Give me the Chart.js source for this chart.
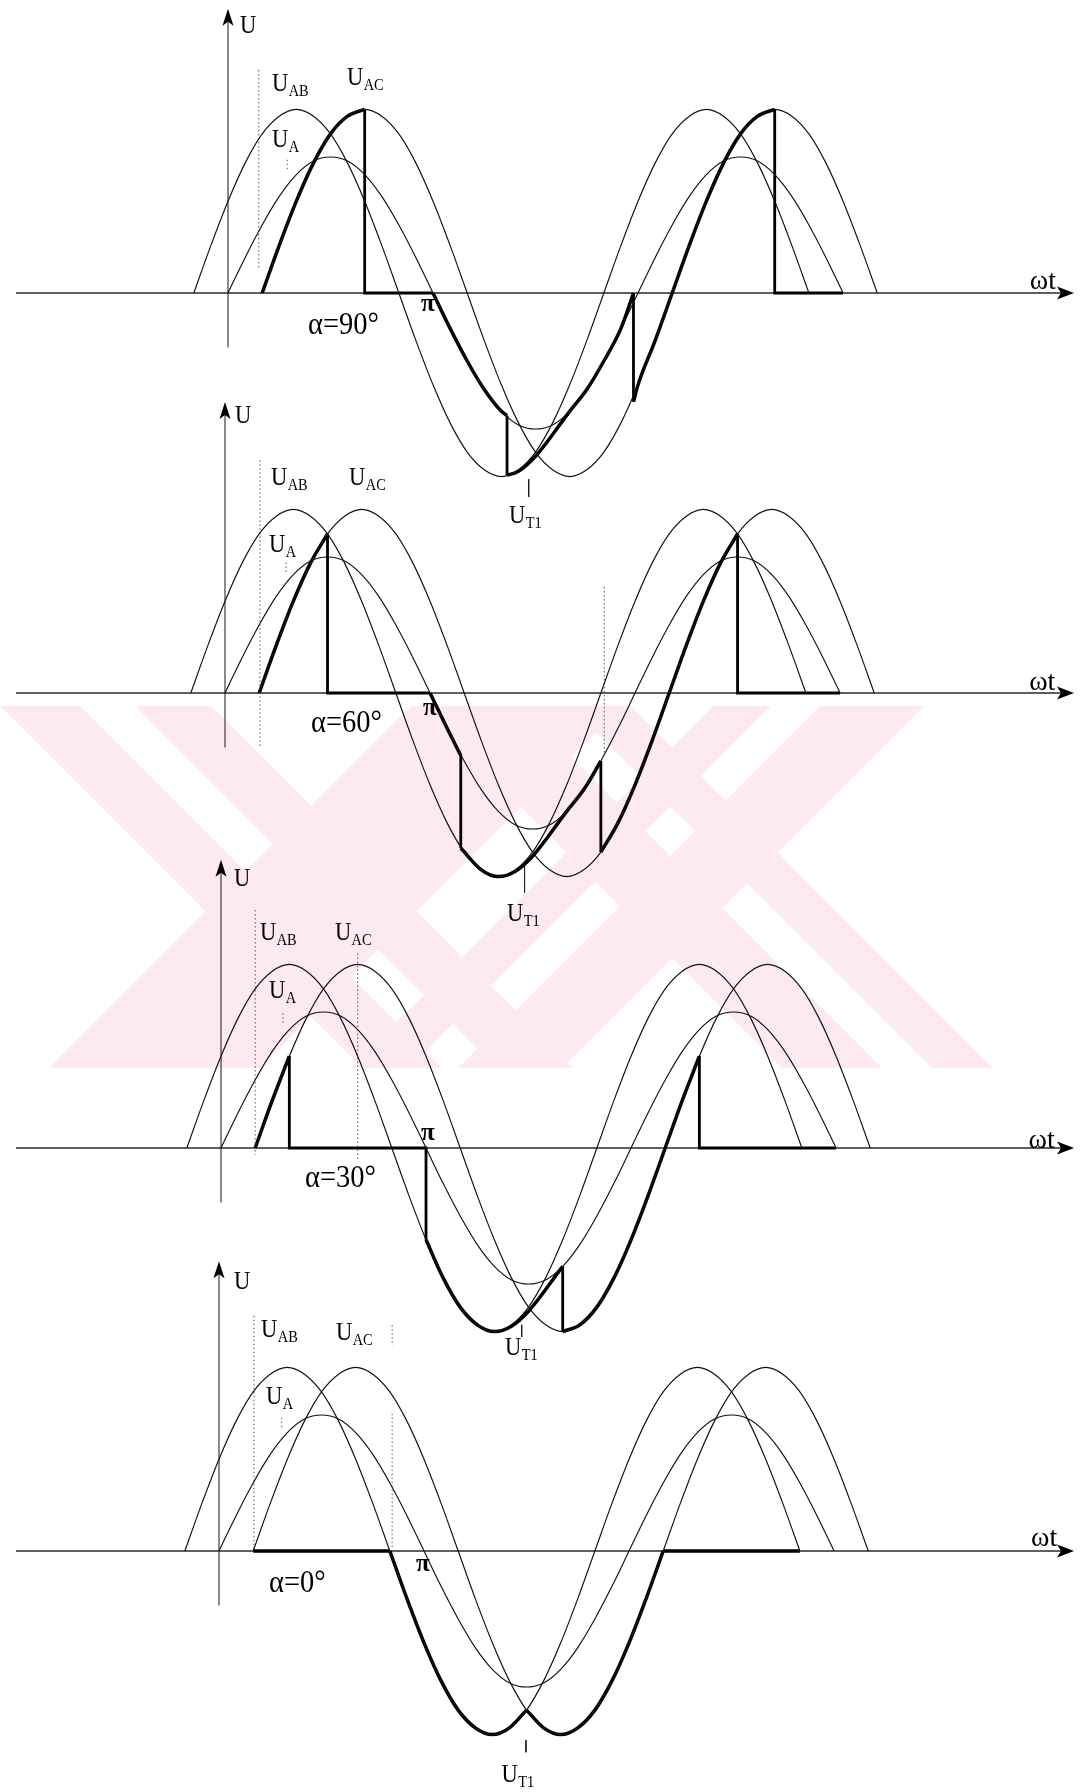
<!DOCTYPE html>
<html>
<head>
<meta charset="utf-8">
<script src="https://cdn.jsdelivr.net/npm/chart.js@4.4.0/dist/chart.umd.min.js"></script>
<style>
  html, body { margin: 0; padding: 0; background: #fff; }
  #page { position: relative; width: 1086px; height: 1792px; overflow: hidden; background: #fff; }
  #page canvas { position: absolute; left: 0; }
</style>
</head>
<body>
<div id="page">
  <canvas id="emblem" width="1086" height="1792" style="top:0"></canvas>
  <canvas id="p1"></canvas>
  <canvas id="p2"></canvas>
  <canvas id="p3"></canvas>
  <canvas id="p4"></canvas>
</div>
<script>
// ---------------------------------------------------------------
// Supply voltages, sampled every 15 degrees of ωt.
// 0° is the positive-going zero crossing of the phase voltage U_A.
// Units: peak of U_A = 1.
// ---------------------------------------------------------------
const angleAB = [-30,-15,0,15,30,45,60,75,90,105,120,135,150,165,180,195,210,225,240,255,270,285,300,315,330,345,360,375,390,405,420,435,450,465,480,495,510];
const voltAB  = [0,0.35,0.675,0.955,1.17,1.30,1.35,1.30,1.17,0.955,0.675,0.35,0,-0.35,-0.675,-0.955,-1.17,-1.30,-1.35,-1.30,-1.17,-0.955,-0.675,-0.35,0,0.35,0.675,0.955,1.17,1.30,1.35,1.30,1.17,0.955,0.675,0.35,0];

const angleA  = [0,15,30,45,60,75,90,105,120,135,150,165,180,195,210,225,240,255,270,285,300,315,330,345,360,375,390,405,420,435,450,465,480,495,510,525,540];
const voltA   = [0,0.26,0.5,0.71,0.87,0.97,1,0.97,0.87,0.71,0.5,0.26,0,-0.26,-0.5,-0.71,-0.87,-0.97,-1,-0.97,-0.87,-0.71,-0.5,-0.26,0,0.26,0.5,0.71,0.87,0.97,1,0.97,0.87,0.71,0.5,0.26,0];

const angleAC = [30,45,60,75,90,105,120,135,150,165,180,195,210,225,240,255,270,285,300,315,330,345,360,375,390,405,420,435,450,465,480,495,510,525,540,555,570];
const voltAC  = [0,0.35,0.675,0.955,1.17,1.30,1.35,1.30,1.17,0.955,0.675,0.35,0,-0.35,-0.675,-0.955,-1.17,-1.30,-1.35,-1.30,-1.17,-0.955,-0.675,-0.35,0,0.35,0.675,0.955,1.17,1.30,1.35,1.30,1.17,0.955,0.675,0.35,0];

// ---------------------------------------------------------------
// Thyristor voltage U_T1 for each firing angle, as [ωt°, U] pieces.
// A piece that repeats an angle contains a vertical step.
// ---------------------------------------------------------------
const thyristor90 = [
  [[30,0],[45,0.35],[60,0.675],[75,0.955],[90,1.17],[105,1.30],[120,1.35]],
  [[120,1.35],[120,0],[180,0]],
  [[180,0],[195,-0.26],[210,-0.5],[225,-0.71],[240,-0.87],[245,-0.9]],
  [[245,-0.9],[245,-1.34]],
  [[245,-1.34],[255,-1.31],[270,-1.20],[300,-0.87],[315,-0.71],[330,-0.5],[345,-0.26],[356,0]],
  [[356,0],[356,-0.8]],
  [[356,-0.8],[360,-0.675],[375,-0.35],[390,0],[405,0.35],[420,0.675],[435,0.955],[450,1.17],[465,1.30],[480,1.35]],
  [[480,1.35],[480,0],[540,0]]
];
const thyristor60 = [
  [[30,0],[45,0.35],[60,0.675],[75,0.955],[90,1.17]],
  [[90,1.17],[90,0],[180,0]],
  [[180,0],[195,-0.26],[207,-0.46]],
  [[207,-0.46],[207,-1.14]],
  [[207,-1.14],[225,-1.30],[240,-1.35],[255,-1.31],[270,-1.20],[300,-0.87],[315,-0.71],[330,-0.5]],
  [[330,-0.5],[330,-1.17]],
  [[330,-1.17],[345,-0.955],[360,-0.675],[375,-0.35],[390,0],[405,0.35],[420,0.675],[435,0.955],[450,1.17]],
  [[450,1.17],[450,0],[540,0]]
];
const thyristor30 = [
  [[30,0],[45,0.35],[60,0.675]],
  [[60,0.675],[60,0],[180,0],[180,-0.675]],
  [[180,-0.675],[195,-0.955],[210,-1.17],[225,-1.30],[240,-1.35],[255,-1.31],[270,-1.20],[300,-0.87]],
  [[300,-0.87],[300,-1.35]],
  [[300,-1.35],[315,-1.30],[330,-1.17],[345,-0.955],[360,-0.675],[375,-0.35],[390,0],[405,0.35],[420,0.675]],
  [[420,0.675],[420,0],[540,0]]
];
const thyristor0 = [
  [[30,0],[150,0]],
  [[150,0],[165,-0.35],[180,-0.675],[195,-0.955],[210,-1.17],[225,-1.30],[240,-1.35],[255,-1.30],[270,-1.17]],
  [[270,-1.17],[285,-1.30],[300,-1.35],[315,-1.30],[330,-1.17],[345,-0.955],[360,-0.675],[375,-0.35],[390,0]],
  [[390,0],[510,0]]
];

const firingLabels = ['α=90°', 'α=60°', 'α=30°', 'α=0°'];

// ---------------------------------------------------------------
// Layout of the four stacked diagrams
// ---------------------------------------------------------------
const PX_PER_DEG = 1.139;
const PX_PER_UNIT = 136;
const ABOVE = 300, PANEL_H = 610;

const panels = [
  { id: 'p1', x0: 228, axisY: 293, uTop: 2.09, wave: thyristor90, alpha: firingLabels[0],
    text: { U: [10.5, 1.91], AB: [38.6, 1.485], AC: [104.5, 1.53], A: [38.6, 1.07],
            alpha: [70.2, -0.30], pi: [169.4, -0.13], T1: [246.7, -1.69], wt: [704, 0.03] },
    guides: [[27, 1.64, 0.17, 'dot'], [52, 0.98, 0.90, 'dot'], [264, -1.37, -1.50, 'solid']] },
  { id: 'p2', x0: 225, axisY: 693, uTop: 2.14, wave: thyristor60, alpha: firingLabels[1],
    text: { U: [8.8, 1.985], AB: [40.4, 1.53], AC: [108.9, 1.53], A: [38.6, 1.04],
            alpha: [75.5, -0.29], pi: [173.8, -0.16], T1: [247.6, -1.68], wt: [706, 0.02] },
    guides: [[30.7, 1.71, -0.40, 'dot'], [333, 0.78, -0.45, 'dot'], [53.6, 0.96, 0.89, 'dot'], [263, -1.27, -1.47, 'solid']] },
  { id: 'p3', x0: 221, axisY: 1148, uTop: 2.12, wave: thyristor30, alpha: firingLabels[2],
    text: { U: [11.4, 1.93], AB: [34.2, 1.53], AC: [100, 1.53], A: [42.1, 1.10],
            alpha: [73.7, -0.29], pi: [175.6, 0.06], T1: [249.3, -1.52], wt: [709, 0.0] },
    guides: [[30, 1.75, -0.05, 'dot'], [120, 1.43, -0.09, 'dot'], [54.4, 0.99, 0.92, 'dot'], [264, -1.30, -1.39, 'solid']] },
  { id: 'p4', x0: 219, axisY: 1551, uTop: 2.13, wave: thyristor0, alpha: firingLabels[3],
    text: { U: [13.2, 1.93], AB: [36.9, 1.57], AC: [102.7, 1.55], A: [41.3, 1.08],
            alpha: [43.9, -0.30], pi: [173, -0.15], T1: [248, -1.70], wt: [713, 0.04] },
    guides: [[30.7, 1.73, 0.0, 'dot'], [152, 1.01, 0.01, 'dot'], [152, 1.66, 1.51, 'dot'], [55, 0.98, 0.91, 'dot'], [269.5, -1.39, -1.48, 'solid']] }
];

// ---------------------------------------------------------------
// Faint emblem printed behind the middle of the page
// ---------------------------------------------------------------
function drawEmblem() {
  const c = document.getElementById('emblem').getContext('2d');
  const top = 706, bottom = 1068, run = bottom - top;
  const back = [[0, 80], [135, 211], [420, 520], [570, 631]];   // "\" strokes, x at top edge
  const fwd  = [[411, 622], [713, 771], [820, 924]];             // "/" strokes, x at top edge
  c.save();
  c.beginPath(); c.rect(0, top, 1086, run); c.clip();
  c.fillStyle = '#fdeaee';
  back.forEach(([a, b]) => {
    c.beginPath(); c.moveTo(a, top); c.lineTo(b, top); c.lineTo(b + run, bottom); c.lineTo(a + run, bottom); c.closePath(); c.fill();
  });
  fwd.forEach(([a, b]) => {
    c.beginPath(); c.moveTo(a, top); c.lineTo(b, top); c.lineTo(b - run, bottom); c.lineTo(a - run, bottom); c.closePath(); c.fill();
  });
  c.restore();
}

// ---------------------------------------------------------------
// Axes, arrows and annotations drawn through the chart scales
// ---------------------------------------------------------------
const SERIF = '"Liberation Serif", "DejaVu Serif", serif';

function symbol(ctx, px, py, main, sub) {
  ctx.save();
  ctx.translate(px, py);
  ctx.scale(0.9, 1);
  ctx.font = '25px ' + SERIF;
  ctx.fillText(main, 0, 0);
  const w = ctx.measureText(main).width;
  if (sub) {
    ctx.font = '16px ' + SERIF;
    ctx.fillText(sub, w + 0.5, 5);
  }
  ctx.restore();
}

const decor = {
  id: 'decor',
  beforeDatasetsDraw(chart, args, opts) {
    const { ctx, scales: { x, y } } = chart;
    const yz = y.getPixelForValue(0);
    const xz = x.getPixelForValue(0);
    ctx.save();
    ctx.strokeStyle = '#2a2a2a';
    ctx.fillStyle = '#000';
    // ωt axis with arrow
    const xs = 16, xe = 1074;
    ctx.lineWidth = 1.3;
    ctx.beginPath(); ctx.moveTo(xs, yz); ctx.lineTo(xe - 12, yz); ctx.stroke();
    ctx.beginPath(); ctx.moveTo(xe, yz); ctx.lineTo(xe - 17, yz - 6.5); ctx.lineTo(xe - 13, yz); ctx.lineTo(xe - 17, yz + 6.5); ctx.closePath(); ctx.fill();
    // U axis with arrow
    const yt = y.getPixelForValue(opts.uTop);
    const yb = y.getPixelForValue(-0.40);
    ctx.lineWidth = 1.1;
    ctx.beginPath(); ctx.moveTo(xz, yb); ctx.lineTo(xz, yt + 12); ctx.stroke();
    ctx.beginPath(); ctx.moveTo(xz, yt); ctx.lineTo(xz - 5.5, yt + 17); ctx.lineTo(xz, yt + 13); ctx.lineTo(xz + 5.5, yt + 17); ctx.closePath(); ctx.fill();
    ctx.restore();
  },
  afterDatasetsDraw(chart, args, opts) {
    const { ctx, scales: { x, y } } = chart;
    const t = opts.text;
    const P = (p) => [x.getPixelForValue(p[0]), y.getPixelForValue(p[1])];
    ctx.save();
    ctx.fillStyle = '#000';
    ctx.textBaseline = 'alphabetic';
    symbol(ctx, ...P(t.U), 'U', '');
    symbol(ctx, ...P(t.AB), 'U', 'AB');
    symbol(ctx, ...P(t.AC), 'U', 'AC');
    symbol(ctx, ...P(t.A), 'U', 'A');
    symbol(ctx, ...P(t.T1), 'U', 'T1');
    // firing angle
    const [ax, ay] = P(t.alpha);
    ctx.save(); ctx.translate(ax, ay); ctx.scale(0.92, 1);
    ctx.font = '31px ' + SERIF; ctx.fillText(opts.alpha, 0, 0); ctx.restore();
    // π mark
    const [qx, qy] = P(t.pi);
    ctx.font = 'bold 25px ' + SERIF; ctx.fillText('π', qx, qy);
    // ωt
    const [wx, wy] = P(t.wt);
    ctx.font = '28px ' + SERIF; ctx.fillText('ωt', wx, wy);
    ctx.restore();
  }
};

function pts(angles, values) {
  return angles.map((a, i) => ({ x: a, y: values[i] }));
}

function hasStep(piece) {
  for (let i = 1; i < piece.length; i++) if (piece[i][0] === piece[i - 1][0]) return true;
  return false;
}

function buildPanel(p) {
  const canvas = document.getElementById(p.id);
  const top = p.axisY - ABOVE;
  canvas.width = 1086;
  canvas.height = PANEL_H;
  canvas.style.top = top + 'px';

  const thin = { borderColor: '#111', borderWidth: 1.15, pointRadius: 0, fill: false, cubicInterpolationMode: 'monotone' };
  const datasets = [
    Object.assign({ data: pts(angleAB, voltAB) }, thin),
    Object.assign({ data: pts(angleA, voltA) }, thin),
    Object.assign({ data: pts(angleAC, voltAC) }, thin)
  ];

  p.guides.forEach(([g, v1, v2, kind]) => {
    datasets.push({
      data: [{ x: g, y: v1 }, { x: g, y: v2 }],
      borderColor: kind === 'dot' ? '#555' : '#222',
      borderWidth: 1,
      borderDash: kind === 'dot' ? [1.5, 2.5] : [],
      pointRadius: 0, tension: 0, fill: false
    });
  });

  p.wave.forEach(piece => {
    const step = hasStep(piece);
    datasets.push({
      data: piece.map(([a, v]) => ({ x: a, y: v })),
      borderColor: '#000',
      borderWidth: step ? 2.8 : 3.5,
      pointRadius: 0, fill: false,
      tension: 0,
      cubicInterpolationMode: step ? 'default' : 'monotone',
      borderJoinStyle: 'miter',
      borderCapStyle: 'butt'
    });
  });

  new Chart(canvas, {
    type: 'line',
    data: { datasets },
    options: {
      responsive: false,
      animation: false,
      devicePixelRatio: 1,
      layout: { padding: 0 },
      events: [],
      scales: {
        x: { type: 'linear', display: false, min: -p.x0 / PX_PER_DEG, max: (1086 - p.x0) / PX_PER_DEG },
        y: { type: 'linear', display: false, min: -(PANEL_H - ABOVE) / PX_PER_UNIT, max: ABOVE / PX_PER_UNIT }
      },
      plugins: {
        legend: { display: false },
        tooltip: { enabled: false },
        decor: { uTop: p.uTop, text: p.text, alpha: p.alpha }
      }
    },
    plugins: [decor]
  });
}

function buildAll() {
  drawEmblem();
  panels.forEach(buildPanel);
}

const fontReady = (document.fonts && document.fonts.load)
  ? Promise.all([
      document.fonts.load('25px "Liberation Serif"', 'Uαωπ°'),
      document.fonts.load('bold 25px "Liberation Serif"', 'π')
    ]).catch(() => null)
  : Promise.resolve();
fontReady.then(buildAll, buildAll);
</script>
</body>
</html>
